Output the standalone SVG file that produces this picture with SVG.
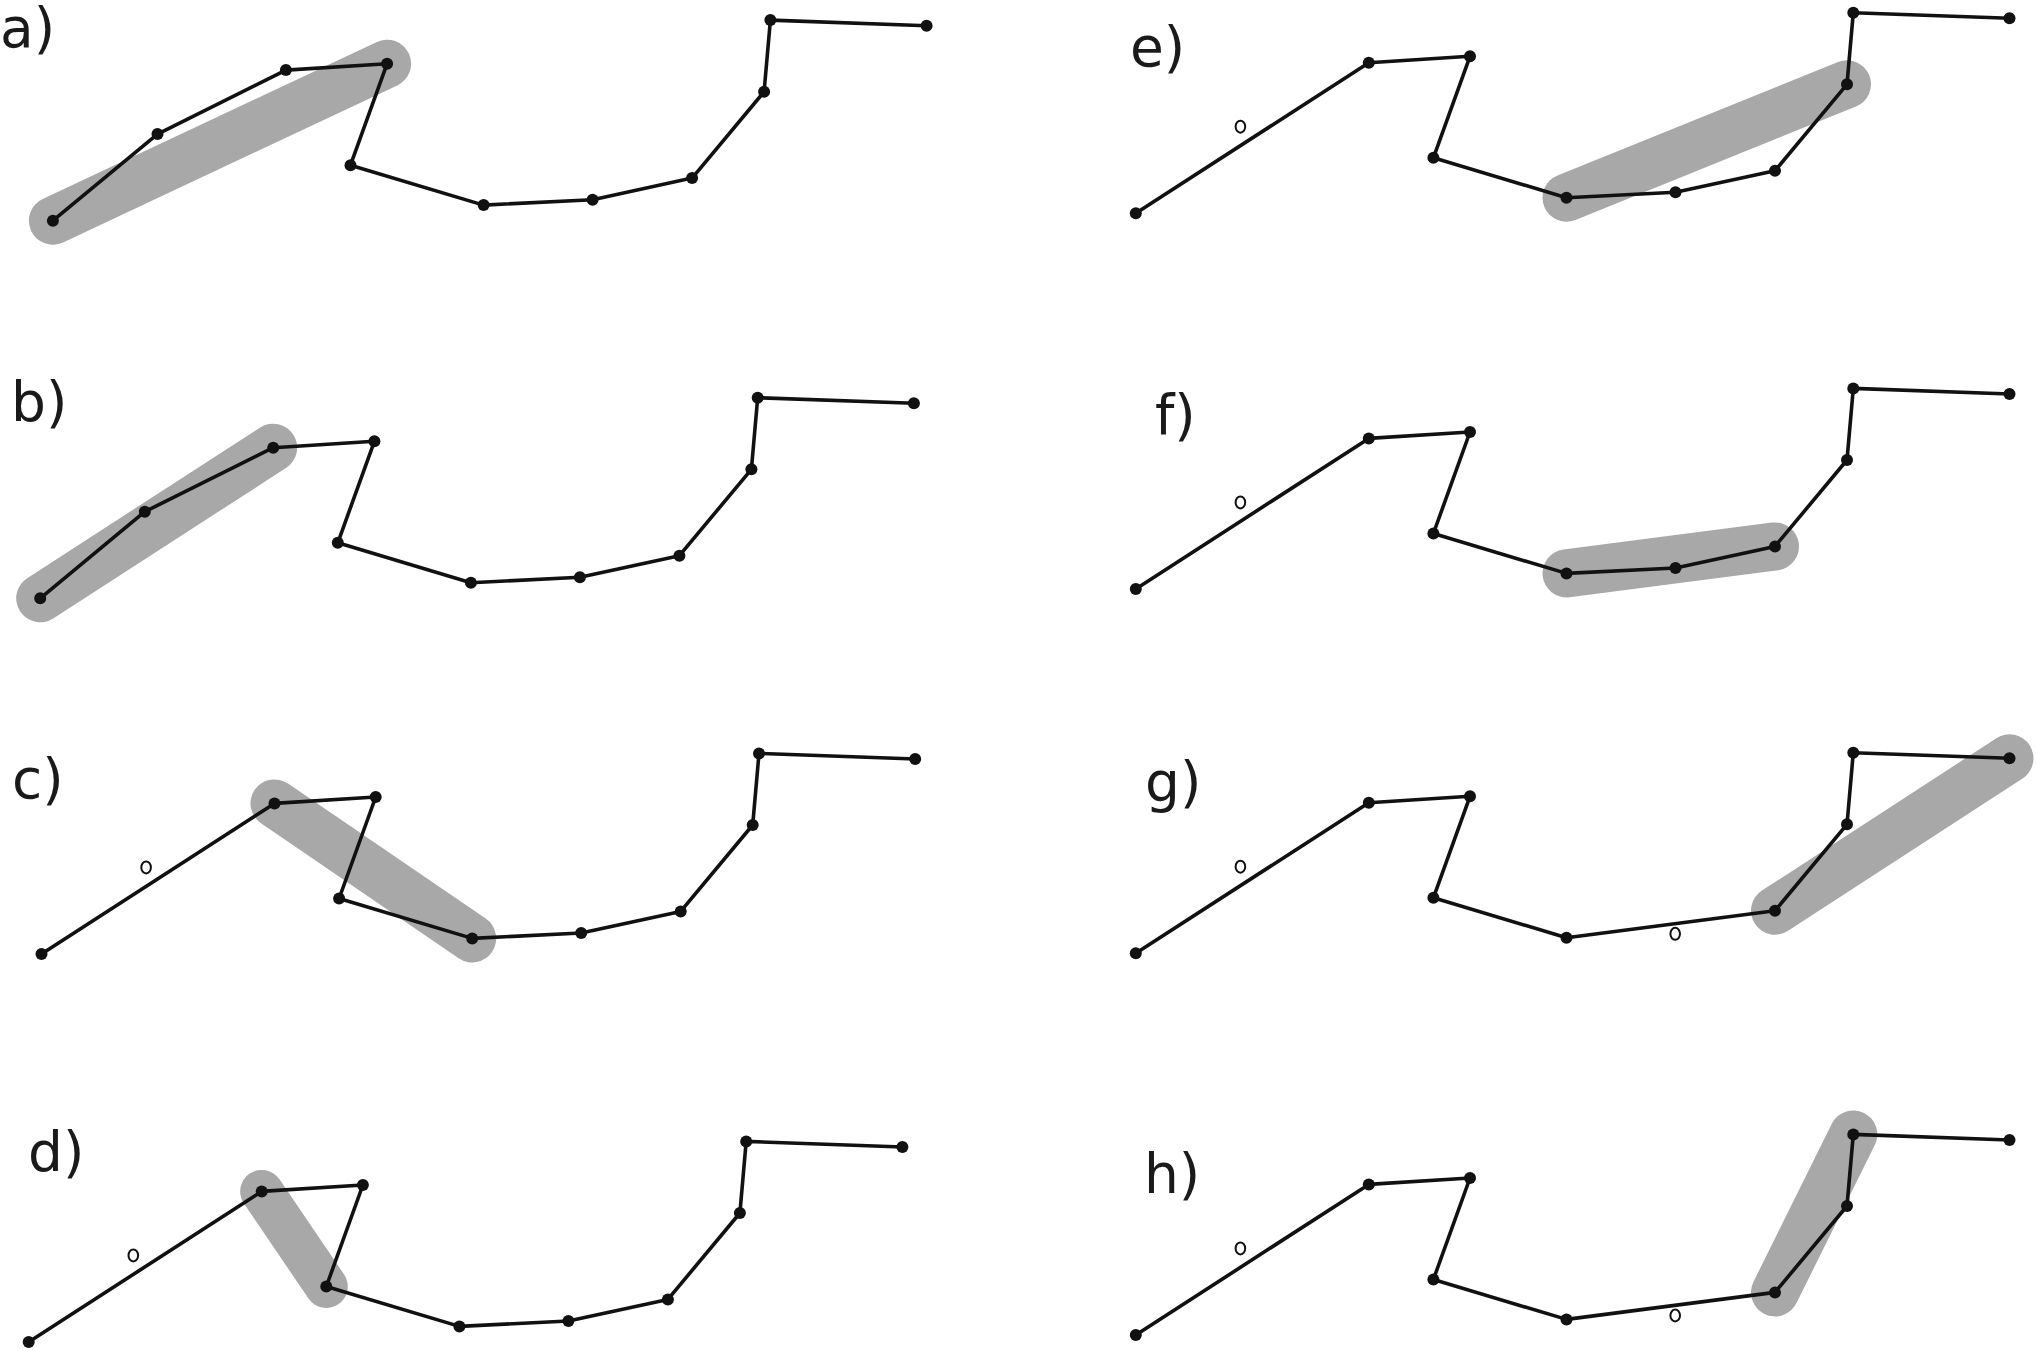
<svg xmlns="http://www.w3.org/2000/svg" xmlns:xlink="http://www.w3.org/1999/xlink" width="2036" height="1350" viewBox="0 0 2036 1350">
<style>
.bg{fill:#ffffff}
.lbl{font-family:"DejaVu Sans","Liberation Sans",sans-serif;font-size:55px;fill:#1a1a1a}
.hl{stroke:#a8a8a8;stroke-width:48;stroke-linecap:round;fill:none}
.edge{stroke:#111111;stroke-width:3.6;fill:none;stroke-linejoin:round;stroke-linecap:round}
.dot{fill:#111111}
.gone{fill:#ffffff;stroke:#111111;stroke-width:2}
</style>
<defs>
<circle id="d" r="6" class="dot"/>
<ellipse id="o" rx="4.8" ry="6" class="gone"/>
<g id="dots-all">
<use xlink:href="#d" x="0" y="0"/><use xlink:href="#d" x="104.6" y="-86.6"/><use xlink:href="#d" x="233" y="-150.6"/><use xlink:href="#d" x="334.2" y="-157"/><use xlink:href="#d" x="297.6" y="-55.5"/><use xlink:href="#d" x="430.7" y="-15.6"/><use xlink:href="#d" x="539.7" y="-21"/><use xlink:href="#d" x="639.2" y="-42.6"/><use xlink:href="#d" x="711.2" y="-129"/><use xlink:href="#d" x="717.5" y="-200.6"/><use xlink:href="#d" x="873.7" y="-195"/>
</g>
<g id="dots-no2">
<use xlink:href="#d" x="0" y="0"/><use xlink:href="#o" x="104.6" y="-86.6"/><use xlink:href="#d" x="233" y="-150.6"/><use xlink:href="#d" x="334.2" y="-157"/><use xlink:href="#d" x="297.6" y="-55.5"/><use xlink:href="#d" x="430.7" y="-15.6"/><use xlink:href="#d" x="539.7" y="-21"/><use xlink:href="#d" x="639.2" y="-42.6"/><use xlink:href="#d" x="711.2" y="-129"/><use xlink:href="#d" x="717.5" y="-200.6"/><use xlink:href="#d" x="873.7" y="-195"/>
</g>
<g id="dots-no27">
<use xlink:href="#d" x="0" y="0"/><use xlink:href="#o" x="104.6" y="-86.6"/><use xlink:href="#d" x="233" y="-150.6"/><use xlink:href="#d" x="334.2" y="-157"/><use xlink:href="#d" x="297.6" y="-55.5"/><use xlink:href="#d" x="430.7" y="-15.6"/><use xlink:href="#o" x="539.4" y="-19.5"/><use xlink:href="#d" x="639.2" y="-42.6"/><use xlink:href="#d" x="711.2" y="-129"/><use xlink:href="#d" x="717.5" y="-200.6"/><use xlink:href="#d" x="873.7" y="-195"/>
</g>
</defs>
<rect class="bg" x="0" y="0" width="2036" height="1350"/>

<g id="panel-a">
<text class="lbl" x="0" y="47">a)</text>
<g transform="translate(52.9,220.7)">
<line class="hl" x1="0" y1="0" x2="334.2" y2="-157"/>
<polyline class="edge" points="0,0 104.6,-86.6 233,-150.6 334.2,-157 297.6,-55.5 430.7,-15.6 539.7,-21 639.2,-42.6 711.2,-129 717.5,-200.6 873.7,-195"/>
<use xlink:href="#dots-all"/>
</g>
</g>

<g id="panel-b">
<text class="lbl" x="11" y="421">b)</text>
<g transform="translate(40.2,598.3)">
<line class="hl" x1="0" y1="0" x2="233" y2="-150.6"/>
<polyline class="edge" points="0,0 104.6,-86.6 233,-150.6 334.2,-157 297.6,-55.5 430.7,-15.6 539.7,-21 639.2,-42.6 711.2,-129 717.5,-200.6 873.7,-195"/>
<use xlink:href="#dots-all"/>
</g>
</g>

<g id="panel-c">
<text class="lbl" x="12" y="798">c)</text>
<g transform="translate(41.5,954)">
<line class="hl" x1="233" y1="-150.6" x2="430.7" y2="-15.6"/>
<polyline class="edge" points="0,0 233,-150.6 334.2,-157 297.6,-55.5 430.7,-15.6 539.7,-21 639.2,-42.6 711.2,-129 717.5,-200.6 873.7,-195"/>
<use xlink:href="#dots-no2"/>
</g>
</g>

<g id="panel-d">
<text class="lbl" x="28" y="1171">d)</text>
<g transform="translate(28.7,1342)">
<line class="hl" style="stroke-width:43" x1="233" y1="-150.6" x2="297.6" y2="-55.5"/>
<polyline class="edge" points="0,0 233,-150.6 334.2,-157 297.6,-55.5 430.7,-15.6 539.7,-21 639.2,-42.6 711.2,-129 717.5,-200.6 873.7,-195"/>
<use xlink:href="#dots-no2"/>
</g>
</g>

<g id="panel-e">
<text class="lbl" x="1130" y="66">e)</text>
<g transform="translate(1135.8,213.3)">
<line class="hl" x1="430.7" y1="-15.6" x2="711.2" y2="-129"/>
<polyline class="edge" points="0,0 233,-150.6 334.2,-157 297.6,-55.5 430.7,-15.6 539.7,-21 639.2,-42.6 711.2,-129 717.5,-200.6 873.7,-195"/>
<use xlink:href="#dots-no2"/>
</g>
</g>

<g id="panel-f">
<text class="lbl" x="1155" y="434">f)</text>
<g transform="translate(1135.8,589)">
<line class="hl" x1="430.7" y1="-15.6" x2="639.2" y2="-42.6"/>
<polyline class="edge" points="0,0 233,-150.6 334.2,-157 297.6,-55.5 430.7,-15.6 539.7,-21 639.2,-42.6 711.2,-129 717.5,-200.6 873.7,-195"/>
<use xlink:href="#dots-no2"/>
</g>
</g>

<g id="panel-g">
<text class="lbl" x="1145" y="801">g)</text>
<g transform="translate(1135.8,953.3)">
<line class="hl" x1="639.2" y1="-42.6" x2="873.7" y2="-195"/>
<polyline class="edge" points="0,0 233,-150.6 334.2,-157 297.6,-55.5 430.7,-15.6 639.2,-42.6 711.2,-129 717.5,-200.6 873.7,-195"/>
<use xlink:href="#dots-no27"/>
</g>
</g>

<g id="panel-h">
<text class="lbl" x="1144" y="1193">h)</text>
<g transform="translate(1135.8,1335)">
<line class="hl" x1="639.2" y1="-42.6" x2="717.5" y2="-200.6"/>
<polyline class="edge" points="0,0 233,-150.6 334.2,-157 297.6,-55.5 430.7,-15.6 639.2,-42.6 711.2,-129 717.5,-200.6 873.7,-195"/>
<use xlink:href="#dots-no27"/>
</g>
</g>
</svg>
